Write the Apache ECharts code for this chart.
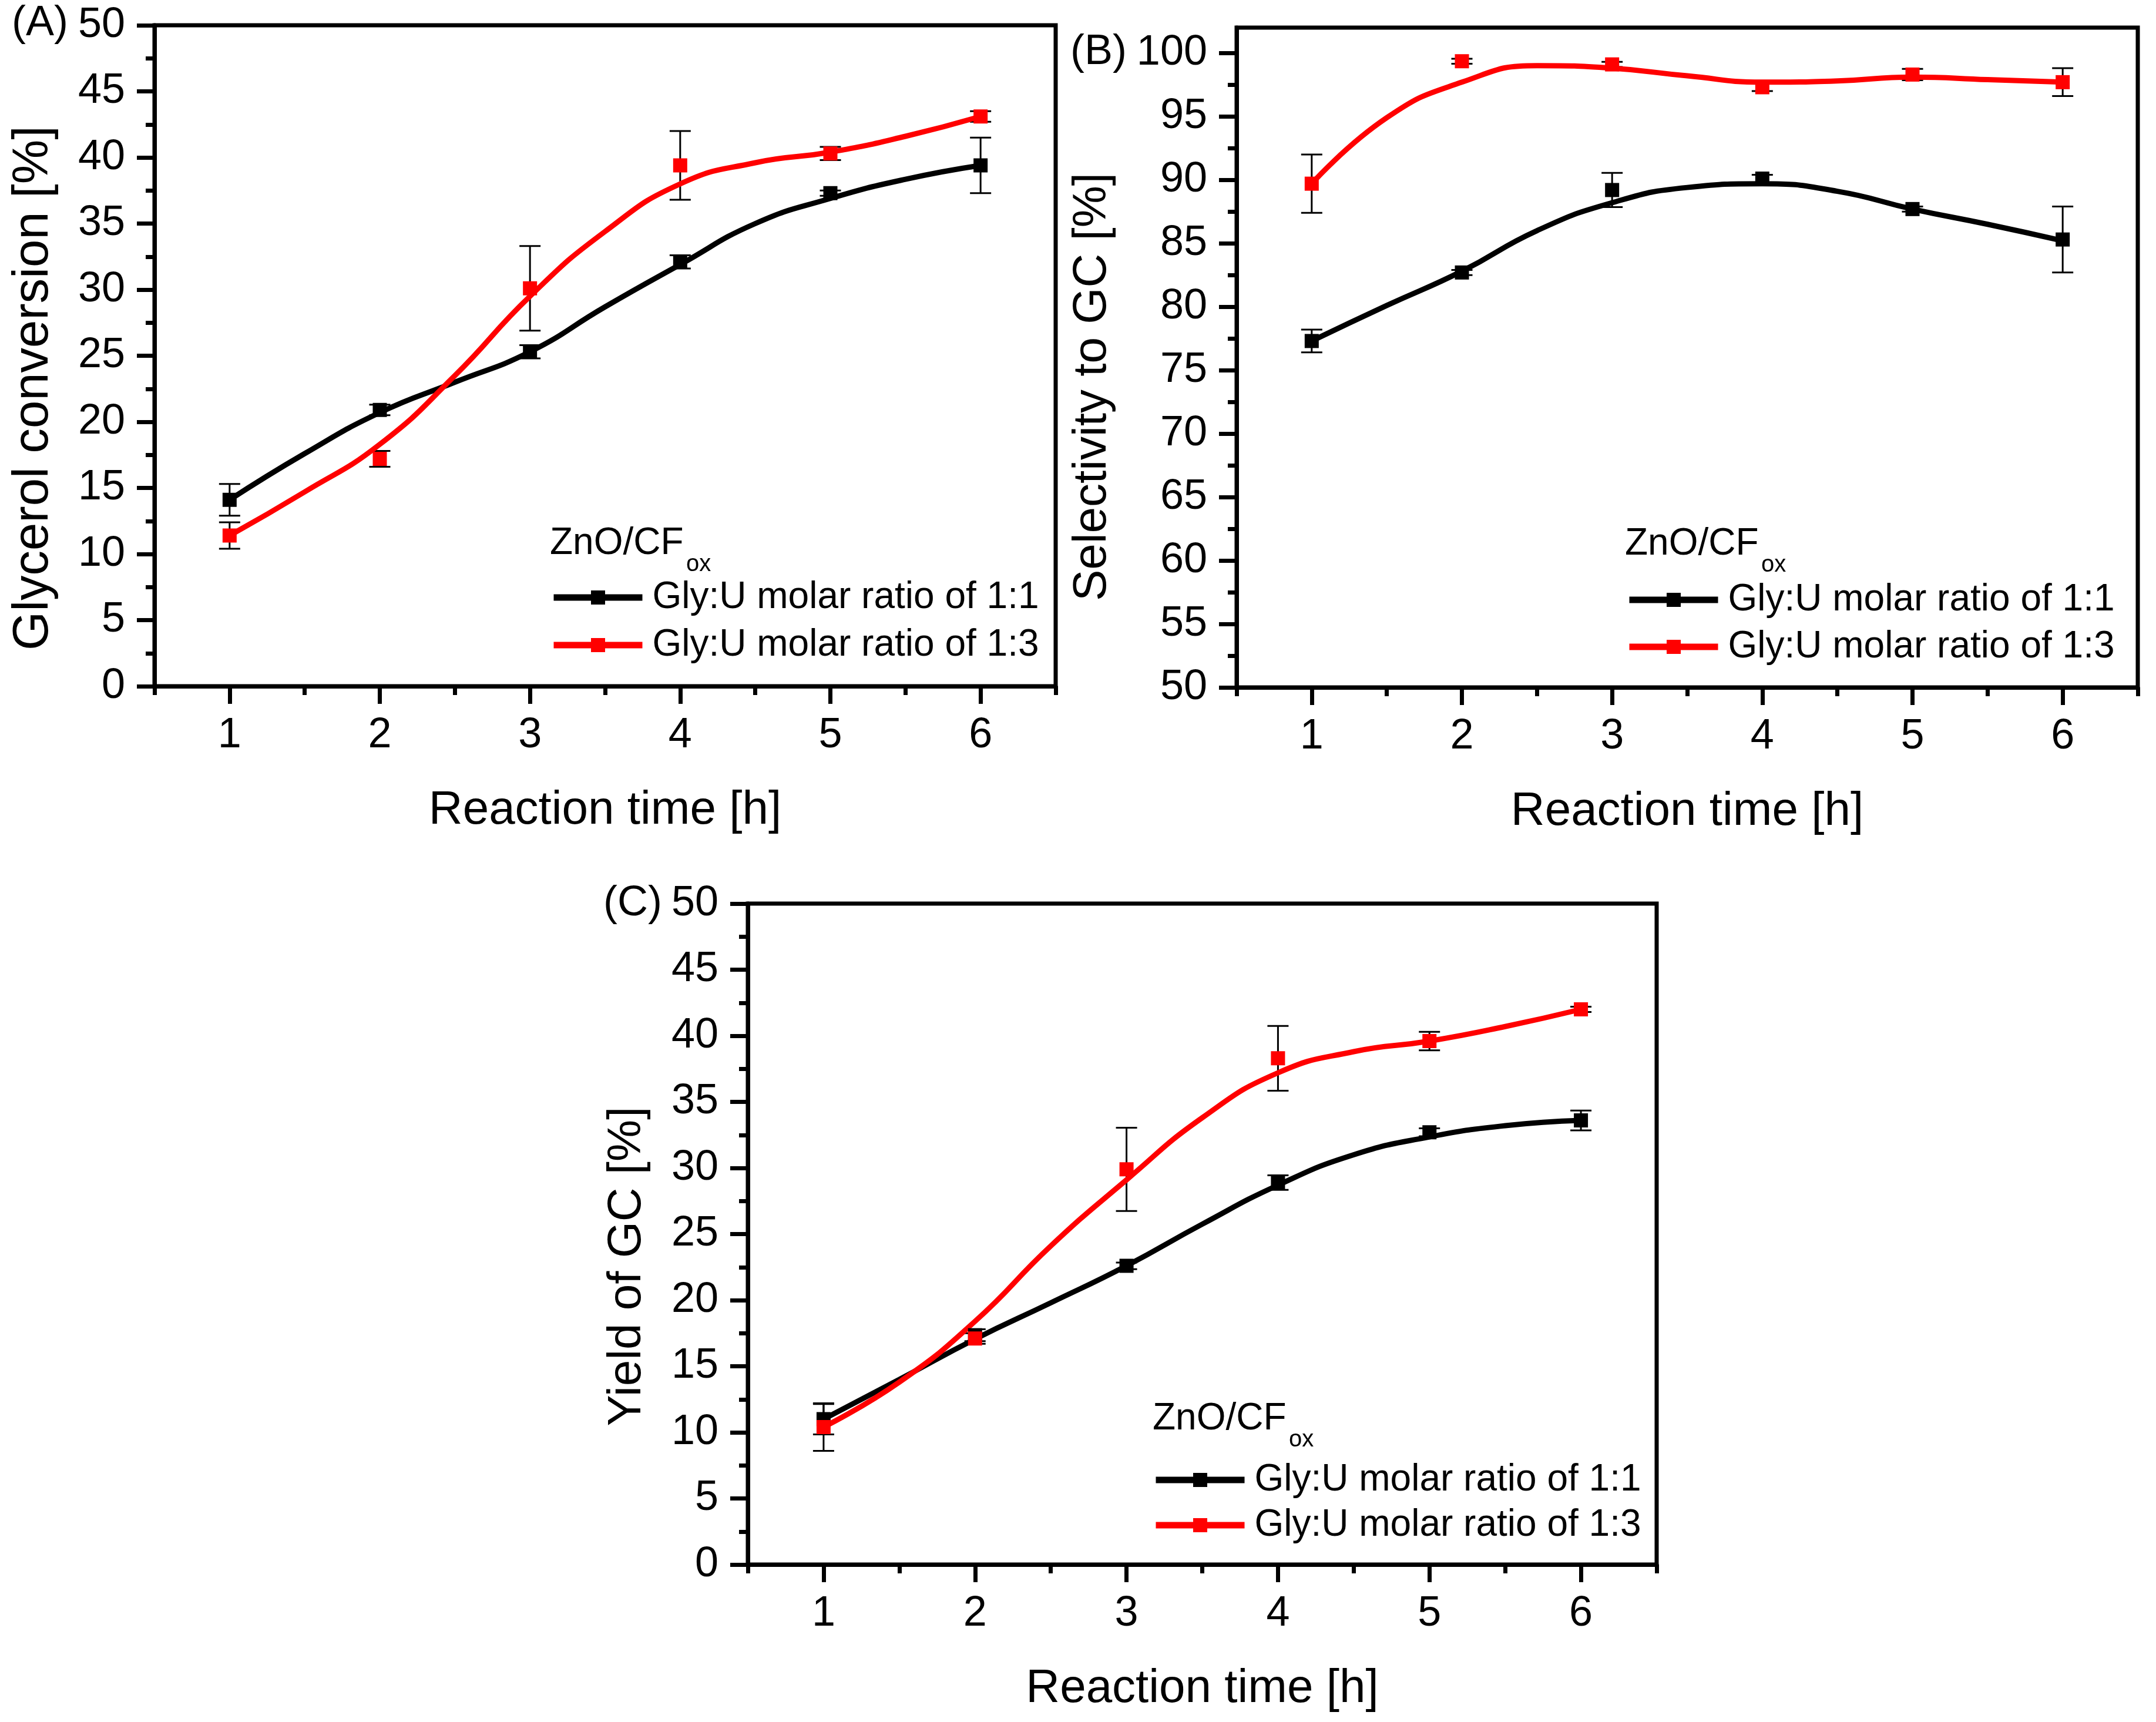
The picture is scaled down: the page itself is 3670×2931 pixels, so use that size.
<!DOCTYPE html>
<html>
<head>
<meta charset="utf-8">
<script src="https://cdn.jsdelivr.net/npm/echarts@6/dist/echarts.min.js"></script>
<style>
html,body{margin:0;padding:0;background:#fff;}
#chart{width:3670px;height:2931px;}
</style>
</head>
<body>
<div id="chart"></div>
<script>
// ---------- data ----------
const timeH = [1, 2, 3, 4, 5, 6];
const curveTimeH = [1, 1.5, 2, 2.5, 3, 3.5, 4, 4.5, 5, 5.5, 6];
const seriesNames = ['Gly:U molar ratio of 1:1', 'Gly:U molar ratio of 1:3'];
const catalystLabel = 'ZnO/CF';
const catalystSub = 'ox';
const panelLabels = ['(A)', '(B)', '(C)'];
const xTitle = 'Reaction time [h]';
const yTitles = ['Glycerol conversion [%]', 'Selectivity to GC [%]', 'Yield of GC [%]'];

// (A) glycerol conversion
const convA11 = [14.1, 20.9, 25.3, 32.1, 37.3, 39.4];
const convA11Err = [1.2, 0.4, 0.5, 0.5, 0.2, 2.1];
const convA13 = [11.4, 17.2, 30.1, 39.4, 40.3, 43.1];
const convA13Err = [1.0, 0.6, 3.2, 2.6, 0.5, 0.4];
const convA11Curve = [14.1, 17.6, 20.7, 23.0, 25.3, 28.7, 31.9, 35.0, 36.9, 38.35, 39.4];
const convA13Curve = [11.4, 14.7, 18.3, 23.5, 29.5, 34.4, 38.0, 39.6, 40.4, 41.6, 43.1];

// (B) selectivity to GC
const selB11 = [77.3, 82.7, 89.2, 90.1, 87.7, 85.3];
const selB11Err = [0.9, 0.2, 1.35, 0.3, 0.2, 2.6];
const selB13 = [89.7, 99.35, 99.1, 97.3, 98.3, 97.7];
const selB13Err = [2.3, 0.2, 0.2, 0.3, 0.45, 1.1];
const selB11Curve = [77.3, 80.1, 82.8, 86.0, 88.2, 89.4, 89.7, 89.1, 87.7, 86.5, 85.2];
const selB13Curve = [89.7, 94.9, 97.7, 99.0, 98.8, 98.2, 97.7, 97.8, 98.1, 97.9, 97.7];

// (C) yield of GC
const yieldC11 = [11.0, 17.35, 22.6, 28.9, 32.7, 33.6];
const yieldC11Err = [1.15, 0.45, 0.25, 0.55, 0.3, 0.75];
const yieldC13 = [10.4, 17.1, 29.9, 38.3, 39.6, 42.0];
const yieldC13Err = [1.8, 0.4, 3.15, 2.45, 0.7, 0.2];
const yieldC11Curve = [11.0, 14.0, 17.06, 19.8, 22.6, 25.75, 28.7, 31.0, 32.35, 33.2, 33.6];
const yieldC13Curve = [10.4, 13.8, 18.4, 24.1, 29.1, 33.8, 37.2, 38.8, 39.6, 40.7, 42.0];

// ticks
const xMajorTicks = [1, 2, 3, 4, 5, 6];
const xMinorTicks = [0.5, 1.5, 2.5, 3.5, 4.5, 5.5, 6.5];
const yMajorTicks0to50 = [0, 5, 10, 15, 20, 25, 30, 35, 40, 45, 50];
const yMinorTicks0to50 = [2.5, 7.5, 12.5, 17.5, 22.5, 27.5, 32.5, 37.5, 42.5, 47.5];
const yMajorTicks50to100 = [50, 55, 60, 65, 70, 75, 80, 85, 90, 95, 100];
const yMinorTicks50to100 = [52.5, 57.5, 62.5, 67.5, 72.5, 77.5, 82.5, 87.5, 92.5, 97.5];

// ---------- layout / style ----------
const FONT = "'Liberation Sans', Arial, Helvetica, sans-serif";
const BLACK = '#000000';
const RED = '#ff0000';
const colors = [BLACK, RED];

const panels = [
  { grid: {left: 263, top: 43, width: 1534, height: 1125}, yMin: 0, yMax: 50,
    yMajor: yMajorTicks0to50, yMinor: yMinorTicks0to50, nameGapY: 163, yTitleSize: 85, yShift: 55,
    values: [convA11, convA13], errs: [convA11Err, convA13Err], curves: [convA11Curve, convA13Curve],
    label: {x: 20, y: 40}, legend: {left: 937, top: 985, gap: 17}, cat: {x: 936, base: 951} },
  { grid: {left: 2105, top: 47, width: 1534, height: 1123}, yMin: 50, yMax: 102,
    yMajor: yMajorTicks50to100, yMinor: yMinorTicks50to100, nameGapY: 205, yTitleSize: 80, yShift: 50,
    values: [selB11, selB13], errs: [selB11Err, selB13Err], curves: [selB11Curve, selB13Curve],
    label: {x: 1822, y: 89}, legend: {left: 2768, top: 989, gap: 16}, cat: {x: 2766, base: 952} },
  { grid: {left: 1273, top: 1538, width: 1547, height: 1125}, yMin: 0, yMax: 50,
    yMajor: yMajorTicks0to50, yMinor: yMinorTicks0to50, nameGapY: 165, yTitleSize: 80, yShift: 55,
    values: [yieldC11, yieldC13], errs: [yieldC11Err, yieldC13Err], curves: [yieldC11Curve, yieldC13Curve],
    label: {x: 1027, y: 1538}, legend: {left: 1962, top: 2487, gap: 13}, cat: {x: 1962, base: 2441} }
];

function errRender(params, api) {
  const x = api.value(0), y = api.value(1), e = api.value(2);
  const t = api.coord([x, y + e]);
  const b = api.coord([x, y - e]);
  const hw = 18;
  const st = {stroke: BLACK, lineWidth: 3, fill: null};
  return {
    type: 'group',
    children: [
      {type: 'line', shape: {x1: t[0], y1: t[1], x2: b[0], y2: b[1]}, style: st},
      {type: 'line', shape: {x1: t[0] - hw, y1: t[1], x2: t[0] + hw, y2: t[1]}, style: st},
      {type: 'line', shape: {x1: b[0] - hw, y1: b[1], x2: b[0] + hw, y2: b[1]}, style: st}
    ]
  };
}

const grids = [], xAxes = [], yAxes = [], series = [], legends = [], graphics = [];

panels.forEach((p, i) => {
  grids.push(Object.assign({show: true, borderColor: BLACK, borderWidth: 7, backgroundColor: 'transparent'}, p.grid));
  const mainX = xAxes.length;
  xAxes.push({
    gridIndex: i, type: 'value', position: 'bottom', min: 0.5, max: 6.5,
    axisLine: {show: true, lineStyle: {color: BLACK, width: 7}},
    axisTick: {show: true, inside: false, length: 30, customValues: xMajorTicks, lineStyle: {color: BLACK, width: 7}},
    axisLabel: {show: true, customValues: xMajorTicks, margin: 48, fontSize: 72, fontFamily: FONT, color: BLACK},
    splitLine: {show: false},
    name: xTitle, nameLocation: 'middle', nameGap: 172,
    nameTextStyle: {fontSize: 80, fontFamily: FONT, color: BLACK}
  });
  xAxes.push({
    gridIndex: i, type: 'value', position: 'bottom', min: 0.5, max: 6.5,
    axisLine: {show: false},
    axisTick: {show: true, inside: false, length: 15, customValues: xMinorTicks, lineStyle: {color: BLACK, width: 7}},
    axisLabel: {show: false}, splitLine: {show: false}
  });
  const mainY = yAxes.length;
  yAxes.push({
    gridIndex: i, type: 'value', position: 'left', min: p.yMin, max: p.yMax,
    axisLine: {show: true, lineStyle: {color: BLACK, width: 7}},
    axisTick: {show: true, inside: false, length: 30, customValues: p.yMajor, lineStyle: {color: BLACK, width: 7}},
    axisLabel: {show: true, customValues: p.yMajor, margin: 50, fontSize: 72, fontFamily: FONT, color: BLACK},
    splitLine: {show: false},
    name: yTitles[i], nameLocation: 'middle', nameGap: p.nameGapY, nameRotate: 90,
    nameTextStyle: {fontSize: p.yTitleSize, fontFamily: FONT, color: BLACK, padding: [0, 2 * p.yShift, 0, 0]}
  });
  yAxes.push({
    gridIndex: i, type: 'value', position: 'left', min: p.yMin, max: p.yMax,
    axisLine: {show: false},
    axisTick: {show: true, inside: false, length: 15, customValues: p.yMinor, lineStyle: {color: BLACK, width: 7}},
    axisLabel: {show: false}, splitLine: {show: false}
  });

  [0, 1].forEach(k => {
    const c = colors[k];
    series.push({
      name: seriesNames[k], type: 'line', xAxisIndex: mainX, yAxisIndex: mainY,
      data: curveTimeH.map((t, j) => [t, p.curves[k][j]]),
      smooth: 0.5, showSymbol: false, symbol: 'rect', symbolSize: 24,
      lineStyle: {color: c, width: 9}, itemStyle: {color: c},
      z: 3, silent: true
    });
    series.push({
      name: seriesNames[k], type: 'custom', xAxisIndex: mainX, yAxisIndex: mainY,
      data: timeH.map((t, j) => [t, p.values[k][j], p.errs[k][j]]),
      encode: {x: 0, y: 1}, renderItem: errRender, z: 2, silent: true
    });
    series.push({
      name: seriesNames[k], type: 'scatter', xAxisIndex: mainX, yAxisIndex: mainY,
      data: timeH.map((t, j) => [t, p.values[k][j]]),
      symbol: 'rect', symbolSize: 24, itemStyle: {color: c, opacity: 1},
      z: 4, silent: true
    });
  });

  legends.push({
    data: seriesNames, orient: 'vertical', left: p.legend.left, top: p.legend.top,
    padding: 0, itemGap: p.legend.gap, itemWidth: 151, itemHeight: 30,
    selectedMode: false,
    lineStyle: {width: 11},
    textStyle: {fontSize: 64, fontFamily: FONT, color: BLACK, padding: [0, 0, 0, 12]}
  });

  graphics.push({
    type: 'text', left: p.label.x, top: p.label.y - 36,
    style: {text: panelLabels[i], fontSize: 72, fontFamily: FONT, fill: BLACK}
  });
  graphics.push({
    type: 'text', left: p.cat.x, top: p.cat.base - 58,
    style: {text: catalystLabel, fontSize: 64, fontFamily: FONT, fill: BLACK}
  });
  graphics.push({
    type: 'text', left: p.cat.x + 232, top: p.cat.base - 10,
    style: {text: catalystSub, fontSize: 40, fontFamily: FONT, fill: BLACK}
  });
});

const chart = echarts.init(document.getElementById('chart'), null, {renderer: 'canvas'});
chart.setOption({
  backgroundColor: '#ffffff',
  animation: false,
  grid: grids,
  xAxis: xAxes,
  yAxis: yAxes,
  legend: legends,
  series: series,
  graphic: graphics
});
</script>
</body>
</html>
